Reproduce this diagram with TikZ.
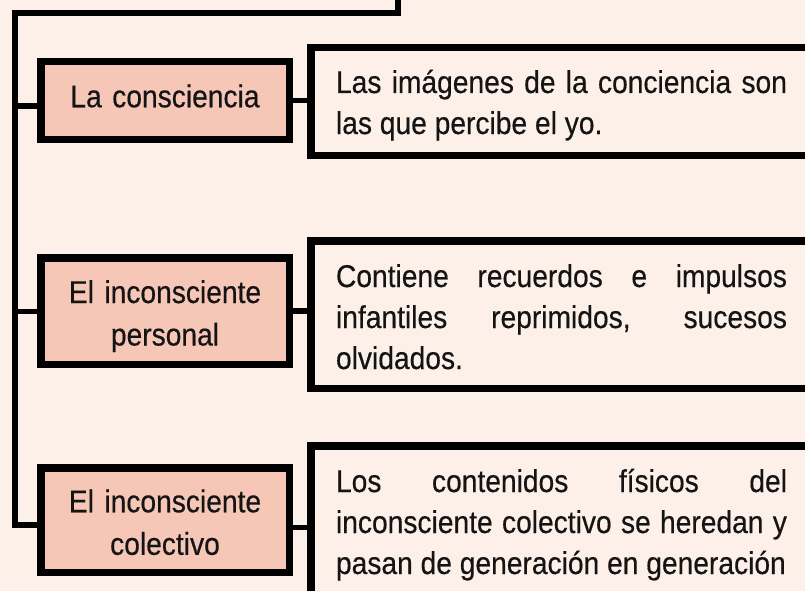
\documentclass[tikz,border=0pt]{standalone}
\usepackage{fontspec}
\setmainfont{Liberation Sans}[FakeStretch=0.895, FakeBold=0.4]
\definecolor{paper}{RGB}{253,240,232}
\definecolor{salmon}{RGB}{246,198,182}
\tikzset{
    every node/.style={font=\fontsize{31.5}{41}\selectfont, text=black!92}
}
\tikzset{
    tema/.style={rectangle, draw, fill=salmon, line width=7.5pt, text width=230pt,
    	align=center, minimum width=248.5pt, inner sep=0pt, text height=20pt,
    	font=\fontsize{31.5}{42.5}\selectfont},
    desc/.style={rectangle, draw, fill=paper, line width=7.5pt, anchor=west,
    	text width=451pt, align=justify, inner xsep=25.25pt, inner ysep=0pt,
    	text height=20pt},
    spine/.style={line width=5.5pt, line join=miter}
}

\begin{document}
\begin{tikzpicture}[x=1pt, y=-1pt]
	\path[use as bounding box, fill=paper] (0,0) rectangle (805,591);
	\clip (0,0) rectangle (805,591);

	\node (cons) [tema, minimum height=77.5pt, text depth=6.4pt] at (165, 100.5) {La consciencia};
	\node (pers) [tema, minimum height=106.5pt, text depth=36pt] at (165, 311) {El inconsciente\\personal};
	\node (colec) [tema, minimum height=104.5pt, text depth=35.4pt] at (165, 520) {El inconsciente\\colectivo};

	\node (dcons) [desc, minimum height=107.5pt, text depth=37pt] at (307, 101.5)
		{Las imágenes de la conciencia son\linebreak las que percibe el yo.};
	\node (dpers) [desc, minimum height=147.5pt, text depth=75pt] at (307, 314.5)
		{Contiene recuerdos e impulsos\linebreak infantiles reprimidos, sucesos\linebreak olvidados.};
	\node (dcolec) [desc, minimum height=158pt, text depth=85.5pt] at (307, 524.75)
		{\parfillskip=0pt Los contenidos físicos del\linebreak inconsciente colectivo se heredan y\linebreak pasan de generación en generación};

	\coordinate (top) at (398, -5);
	\coordinate (bend) at (15, 13);
	\coordinate (foot) at (15, 528);
	\coordinate (j1) at (15, 106);
	\coordinate (j2) at (15, 311.5);
	\coordinate (j3) at (15, 525);
	\coordinate (k3) at (300, 527.5);

	\draw [spine] (top) |- (bend) -- (foot);
	\draw [spine] (j1) -- (j1 -| cons.west);
	\draw [spine] (j2) -- (j2 -| pers.west);
	\draw [spine] (j3) -- (j3 -| colec.west);

	\draw [spine] (cons.east) -- (cons.east -| dcons.west);
	\draw [spine] (pers.east) -- (pers.east -| dpers.west);
	\draw [spine] (k3 -| colec.east) -- (k3 -| dcolec.west);
\end{tikzpicture}
\end{document}
